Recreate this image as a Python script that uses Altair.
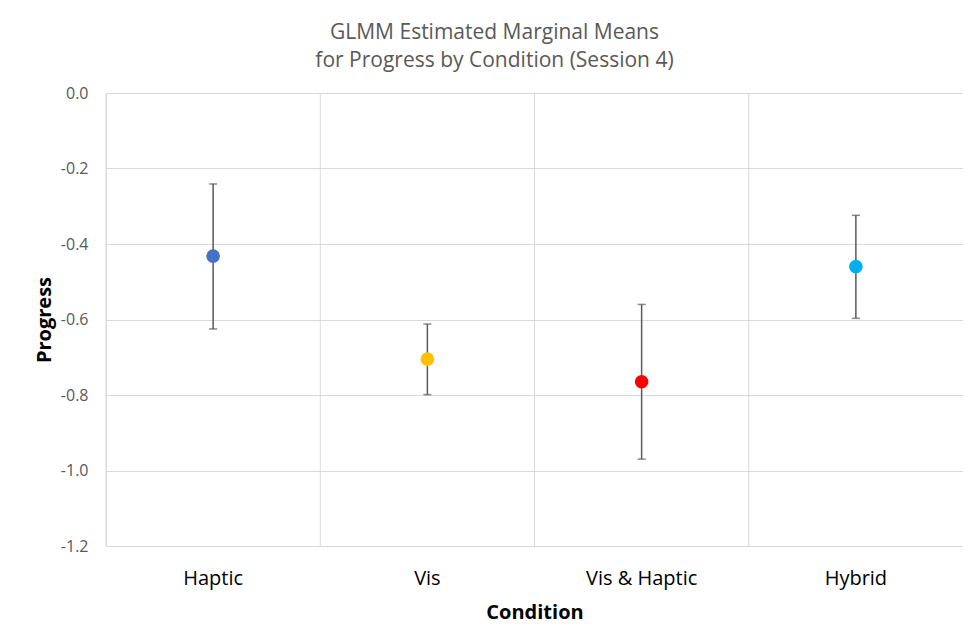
import altair as alt
import pandas as pd

conditions = ["Haptic", "Vis", "Vis & Haptic", "Hybrid"]
means = [-0.432, -0.705, -0.765, -0.460]
lower = [-0.625, -0.799, -0.970, -0.597]
upper = [-0.241, -0.612, -0.560, -0.324]
colors = ["#4472C4", "#FFC000", "#FF0000", "#00B0F0"]
y_ticks = [0.0, -0.2, -0.4, -0.6, -0.8, -1.0, -1.2]
title_lines = ["GLMM Estimated Marginal Means", "for Progress by Condition (Session 4)"]

df = pd.DataFrame({"condition": conditions, "mean": means, "lower": lower, "upper": upper})

FONT = "Open Sans"
GRID = "#d9d9d9"
BAR = "#595959"

xscale = alt.Scale(type="band", domain=conditions, paddingInner=0, paddingOuter=0)
xaxis = alt.Axis(
    title="Condition", labelAngle=0, ticks=False, tickSize=0, domain=False, grid=False,
    labelFont=FONT, labelFontSize=20, labelColor="#000000", labelPadding=22,
    titleFont=FONT, titleFontSize=20, titleFontWeight="bold", titleColor="#000000",
    titleBaseline="alphabetic", titleY=72,
)
yscale = alt.Scale(domain=[-1.2, 0.0], nice=False, zero=False)
yaxis = alt.Axis(
    values=y_ticks, labelExpr="replace(format(datum.value, '.1f'), '\u2212', '-')",
    grid=True, gridColor=GRID, gridWidth=1, ticks=False, tickSize=0, domain=False,
    labelFont=FONT, labelFontSize=16, labelColor="#595959", labelPadding=18,
    title="Progress", titleFont=FONT, titleFontSize=20, titleFontWeight="bold",
    titleColor="#000000", titleAngle=-90, titleX=-62, titleY=226.5,
    titleAlign="center", titleBaseline="middle",
)

x = alt.X("condition:N", scale=xscale, axis=xaxis, sort=conditions)

base = alt.Chart(df)

vgrid = base.mark_rule(color=GRID, strokeWidth=1).encode(
    x=alt.X("condition:N", scale=xscale, axis=xaxis, sort=conditions, bandPosition=0)
)

bars = base.mark_rule(color=BAR, strokeWidth=1.5).encode(
    x=x,
    y=alt.Y("lower:Q", scale=yscale, axis=yaxis),
    y2="upper:Q",
)
cap_lo = base.mark_tick(color=BAR, size=8, thickness=1.5).encode(
    x=x, y=alt.Y("lower:Q", scale=yscale, axis=yaxis)
)
cap_hi = base.mark_tick(color=BAR, size=8, thickness=1.5).encode(
    x=x, y=alt.Y("upper:Q", scale=yscale, axis=yaxis)
)
points = base.mark_point(filled=True, size=185, opacity=1).encode(
    x=x,
    y=alt.Y("mean:Q", scale=yscale, axis=yaxis),
    color=alt.Color("condition:N", scale=alt.Scale(domain=conditions, range=colors), legend=None),
)

chart = alt.layer(vgrid, bars, cap_lo, cap_hi, points).properties(
    width=857,
    height=453,
    autosize="none",
    padding={"left": 98, "top": 85, "right": 0, "bottom": 83},
    title=alt.TitleParams(
        text=title_lines, font=FONT, fontSize=21, fontWeight="normal", color="#595959",
        anchor="middle", frame="group", dx=-40, dy=5, offset=2, baseline="alphabetic", lineHeight=28,
    ),
).configure_view(stroke=GRID, strokeWidth=1).configure(background="white")

chart.save("out.html", embed_options={"renderer": "svg", "actions": False})
